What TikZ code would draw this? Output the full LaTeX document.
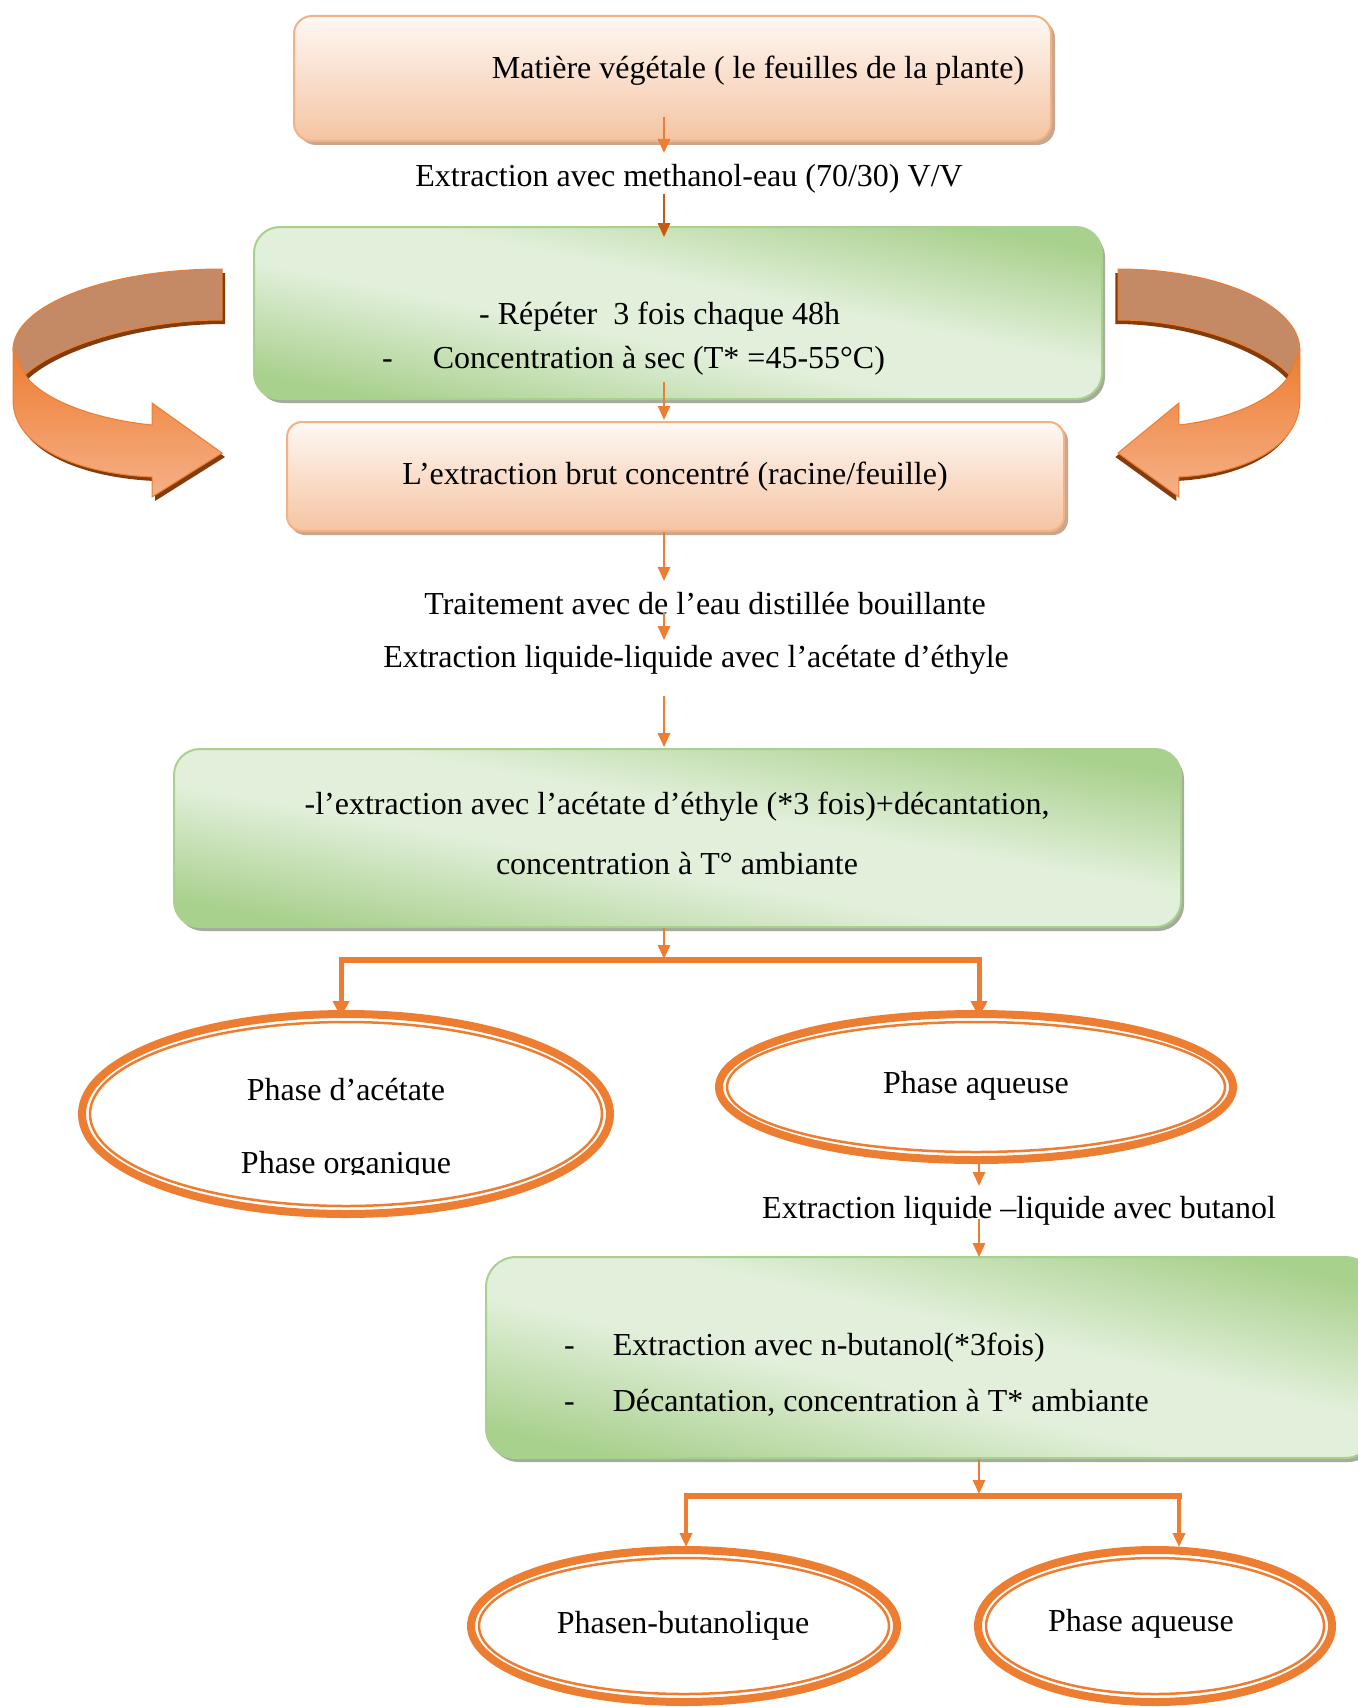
\documentclass[tikz,border=0pt]{standalone}
\usepackage{fontspec}
\setmainfont{Liberation Serif}
\usetikzlibrary{arrows.meta,shapes.geometric}
\definecolor{org}{HTML}{ED7D31}
\definecolor{orgd}{HTML}{C55A11}
\definecolor{orgL}{HTML}{F6B088}
\definecolor{peachB}{HTML}{F4B183}
\definecolor{peachT}{HTML}{FEF8F4}
\definecolor{peachBot}{HTML}{F5C4A2}
\definecolor{peachSh}{HTML}{C9A68E}
\definecolor{gG}{HTML}{A9D18E}
\definecolor{gL}{HTML}{E2EFDA}
\definecolor{gSh}{HTML}{A3AD9C}
\definecolor{brownF}{HTML}{C48A66}
\definecolor{brownS}{HTML}{843C0C}
\pgfdeclarehorizontalshading{gband}{100bp}{color(0bp)=(gG); color(29bp)=(gG); color(45bp)=(gL); color(55bp)=(gL); color(71bp)=(gG); color(100bp)=(gG)}
\newcommand{\greenfill}[8]{% cx, cy, angle, a, L, corner1, corner2, radius
  \begin{scope}
    \clip[rounded corners=#8] (#6) rectangle (#7);
    \shade[shading=gband, transform canvas={rotate around={#3:(#1,#2)}}] ({#1-#4},{#2-#5}) rectangle ({#1+#4},{#2+#5});
  \end{scope}}
\tikzset{
  curvarrow/.pic={
    \begin{scope}[shift={(3,4)}]
      \fill[brownS] (0,0) .. controls (-115,0) and (-209,36) .. (-209,81) -- (-197,106) .. controls (-170,80) and (-90,51) .. (0,51) -- cycle;
      \fill[brownS] (-209,81) -- (-209,131) .. controls (-209,180) and (-140,205) .. (-70,208) -- (-70,228) -- (0,184) -- (-70,134) -- (-70,156) .. controls (-130,150) and (-180,130) .. (-197,106) -- cycle;
    \end{scope}
    \path[fill=brownF, draw=org, line width=1pt] (0,0) .. controls (-115,0) and (-209,36) .. (-209,81) -- (-197,106) .. controls (-170,80) and (-90,51) .. (0,51) -- cycle;
    \path[top color=org, bottom color=orgL, draw=org, line width=1pt] (-209,81) -- (-209,131) .. controls (-209,180) and (-140,205) .. (-70,208) -- (-70,228) -- (0,184) -- (-70,134) -- (-70,156) .. controls (-130,150) and (-180,130) .. (-197,106) -- cycle;
  }
}
\begin{document}
\begin{tikzpicture}[x=1pt,y=-1pt,
  txt/.style={font=\fontsize{32}{38}\selectfont, inner sep=0pt, text height=22pt, text depth=7pt, yshift=-4.5pt},
  peachbox/.style={draw=peachB, line width=2pt, rounded corners=18pt, top color=peachT, bottom color=peachBot, inner sep=0pt},
  greenbox/.style={draw=gG, line width=2pt, rounded corners=26pt, inner sep=0pt},
  arr/.style={draw=org, line width=2.5pt, -{Triangle[length=14pt,width=12pt]}},
  tarr/.style={draw=org, line width=5pt, -{Triangle[length=16pt,width=16pt]}},
  bar/.style={draw=org, line width=6pt},
  ell/.style={ellipse, draw=org, line width=8pt, inner sep=0pt, fill=white},
  inell/.style={draw=org, line width=2.5pt}
]
\useasboundingbox (0,0) rectangle (1357,1707);
\fill[white] (0,0) rectangle (1357,1707);
\coordinate (spine) at (664,0);
\coordinate (spine2) at (979,0);

% curved arrows
\pic at (222,269) {curvarrow};
\pic[xscale=-0.87] at (1118,269) {curvarrow};

% box 1
\fill[peachSh, rounded corners=18pt] (298,20) rectangle (1055,145);
\node[peachbox, minimum width=757pt, minimum height=125pt] (box1) at (672.5,78.5) {};
\node[txt] (tb1) at (758,67) {Matière végétale ( le feuilles de la plante)};

\node[txt] (t1) at (689,175) {Extraction avec methanol-eau (70/30) V/V};

% box 2
\fill[gSh, rounded corners=26pt] (257,231) rectangle (1105,403);
\greenfill{678}{313}{78.53}{170}{460}{254,227}{1102,399}{26pt}
\node[greenbox, minimum width=848pt, minimum height=172pt] (box2) at (678,313) {};
\node[txt, anchor=west] (b2a) at (479,312) {- Répéter\ \ 3 fois chaque 48h};
\node[txt, anchor=west] (b2b) at (382,356) {-\hspace{40pt}Concentration à sec (T* =45-55°C)};

% box 3
\fill[peachSh, rounded corners=15pt] (290,426) rectangle (1068,535);
\node[peachbox, rounded corners=15pt, minimum width=777pt, minimum height=109pt] (box3) at (675.5,476.5) {};
\node[txt] (tb3) at (675,472) {L’extraction brut concentré (racine/feuille)};

\node[txt] (t2) at (705,602) {Traitement avec de l’eau distillée bouillante};
\node[txt] (t3) at (696,655) {Extraction liquide-liquide avec l’acétate d’éthyle};

% box 4
\fill[gSh, rounded corners=26pt] (177,753) rectangle (1184,931);
\greenfill{677.5}{838}{79.98}{176}{540}{174,749}{1181,927}{26pt}
\node[greenbox, minimum width=1007pt, minimum height=178pt] (box4) at (677.5,838) {};
\node[txt] (b4a) at (677,802) {-l’extraction avec l’acétate d’éthyle (*3 fois)+décantation,};
\node[txt] (b4b) at (677,862) {concentration à T° ambiante};

% split 1
\coordinate (b1L) at (341,960);
\coordinate (b1R) at (979,960);

% ellipses 1,2
\node[ell, minimum width=528pt, minimum height=200pt] (e1) at (346,1114) {};
\draw[inell] (e1.center) ellipse [x radius=256pt, y radius=92pt];
\node[txt] (e1a) at (346,1088) {Phase d’acétate};
\begin{scope}
  \clip (0,1100) rectangle (1357,1174);
  \node[txt] (e1b) at (346,1161) {Phase organique};
\end{scope}
\node[ell, minimum width=514pt, minimum height=146pt] (e2) at (976,1087) {};
\draw[inell] (e2.center) ellipse [x radius=249pt, y radius=65pt];
\node[txt] (e2a) at (976,1081) {Phase aqueuse};

\node[txt] (t4) at (1019,1206) {Extraction liquide –liquide avec butanol};

% box 5
\fill[gSh, rounded corners=30pt] (489,1261) rectangle (1378,1462);
\greenfill{930.5}{1357.5}{77.26}{197}{485}{486,1257}{1375,1458}{30pt}
\node[greenbox, rounded corners=30pt, minimum width=889pt, minimum height=201pt] (box5) at (930.5,1357.5) {};
\node[txt, anchor=west] (b5a) at (564,1343) {-\hspace{38pt}Extraction avec n-butanol(*3fois)};
\node[txt, anchor=west] (b5b) at (564,1399) {-\hspace{38pt}Décantation, concentration à T* ambiante};

\coordinate (b2L) at (686,1496);
\coordinate (b2R) at (1179,1496);

% ellipses 3,4
\node[ell, minimum width=426pt, minimum height=152pt] (e3) at (684,1626) {};
\draw[inell] (e3.center) ellipse [x radius=205pt, y radius=68pt];
\node[txt] (e3a) at (683,1621) {Phasen-butanolique};
\node[ell, minimum width=354pt, minimum height=152pt] (e4) at (1155,1626) {};
\draw[inell] (e4.center) ellipse [x radius=169pt, y radius=68pt];
\node[txt] (e4a) at (1141,1619) {Phase aqueuse};

% connectors
\draw[arr] (spine |- box1.south) ++(0,-25) -- ++(0,36);
\draw[arr, draw=orgd] (spine |- t1.south) -- ++(0,43);
\draw[arr] (spine |- box2.south) ++(0,-18) -- ++(0,38);
\draw[arr] (spine |- box3.south) -- ++(0,49);
\draw[arr] (spine |- t2.south) ++(0,-8) -- ++(0,27);
\draw[arr] (spine |- t3.south) ++(0,22) -- ++(0,51);
\draw[arr] (spine |- box4.south) -- ++(0,31);
\draw[bar] ([xshift=-2.5pt]b1L) -- ([xshift=2.5pt]b1R);
\draw[tarr] (b1L) -- ++(0,57);
\draw[tarr] (b1R) -- ++(0,57);
\draw[arr] (spine2 |- e2.south) ++(0,-6) -- ++(0,28);
\draw[arr] (spine2 |- t4.south) ++(0,-6) -- ++(0,38);
\draw[arr] (spine2 |- box5.south) -- ++(0,35);
\draw[bar] ([xshift=-2.5pt]b2L) -- ([xshift=2.5pt]b2R);
\draw[arr, line width=3.5pt] (b2L) -- ++(0,51);
\draw[arr, line width=3.5pt] (b2R) -- ++(0,51);
\end{tikzpicture}
\end{document}
